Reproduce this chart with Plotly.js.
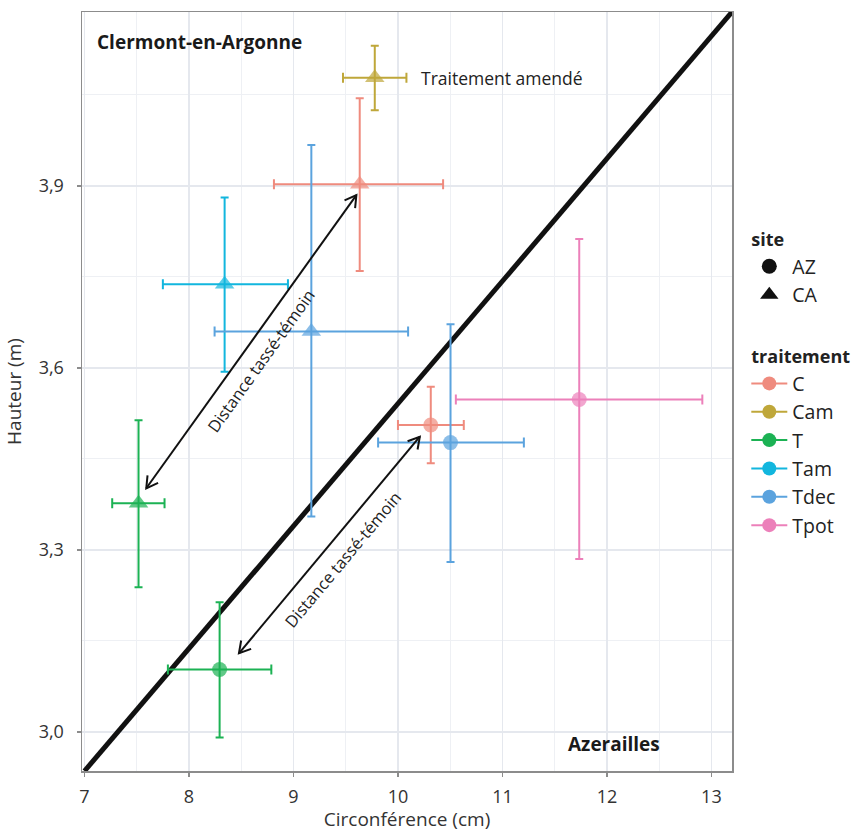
<!DOCTYPE html>
<html>
<head>
<meta charset="utf-8">
<script src="https://cdn.plot.ly/plotly-3.0.1.min.js"></script>
<style>html,body{margin:0;padding:0;background:#fff;}#chart{width:857px;height:832px;}</style>
</head>
<body>
<div id="chart"></div>
<script>
// ---- data ----
const site       = ['CA','CA','CA','CA','CA','AZ','AZ','AZ','AZ'];
const traitement = ['C','Cam','Tam','Tdec','T','C','Tdec','Tpot','T'];
const circ       = [9.634, 9.778, 8.341, 9.171, 7.517, 10.314, 10.503, 11.735, 8.293];
const circLow    = [8.813, 9.474, 7.750, 8.245, 7.265, 10.000, 9.810, 10.554, 7.798];
const circHigh   = [10.432, 10.081, 8.947, 10.097, 7.766, 10.630, 11.205, 12.913, 8.788];
const haut       = [3.903, 4.0785, 3.738, 3.660, 3.377, 3.506, 3.477, 3.548, 3.103];
const hautLow    = [3.760, 4.025, 3.594, 3.355, 3.2385, 3.443, 3.280, 3.285, 2.991];
const hautHigh   = [4.0445, 4.131, 3.881, 3.9675, 3.514, 3.569, 3.672, 3.8126, 3.214];

const treatLevels = ['C','Cam','T','Tam','Tdec','Tpot'];
const treatColors = ['#EF8B7E','#BFA73A','#1CB254','#12B6DE','#5BA3DE','#EC80BA'];
const siteLevels  = ['AZ','CA'];
const siteSymbols = ['circle','triangle-up'];

const xTicks = [7, 8, 9, 10, 11, 12, 13];
const yTicks = [3.0, 3.3, 3.6, 3.9];

// reference line and annotations
const refLineX = [7.0, 13.197];
const refLineY = [2.9357, 4.1868];
const arrowUp  = {x1: 9.602, y1: 3.885, x2: 7.591, y2: 3.4017};
const arrowLow = {x1: 10.209, y1: 3.4867, x2: 8.478, y2: 3.1297};

// ---- layout geometry ----
const W = 857, H = 832;
const M = {l: 82, r: 125, t: 12, b: 61, autoexpand: false};
const xr = [6.976, 13.197], yr = [2.9357, 4.1868];
const sx = (W - M.l - M.r) / (xr[1] - xr[0]);
const sy = (H - M.t - M.b) / (yr[1] - yr[0]);
const FONT = 'Open Sans, sans-serif';

const traces = [];
traces.push({
  x: refLineX, y: refLineY, mode: 'lines', type: 'scatter',
  line: {color: '#111', width: 5}, showlegend: false, hoverinfo: 'skip', cliponaxis: false
});

treatLevels.forEach((t, ti) => {
  const idx = traitement.map((v, i) => v === t ? i : -1).filter(i => i >= 0);
  const col = treatColors[ti];
  traces.push({
    type: 'scatter', mode: 'markers',
    x: idx.map(i => circ[i]), y: idx.map(i => haut[i]),
    marker: {
      color: col,
      size: idx.map(i => site[i] === 'CA' ? 17 : 15),
      symbol: idx.map(i => siteSymbols[siteLevels.indexOf(site[i])]),
      line: {width: 0}
    },
    error_x: {type: 'data', symmetric: false,
      array: idx.map(i => circHigh[i] - circ[i]),
      arrayminus: idx.map(i => circ[i] - circLow[i]),
      color: col, thickness: 2, width: 5},
    error_y: {type: 'data', symmetric: false,
      array: idx.map(i => hautHigh[i] - haut[i]),
      arrayminus: idx.map(i => haut[i] - hautLow[i]),
      color: col, thickness: 2, width: 4},
    showlegend: false, cliponaxis: false
  });
});

// legend: site
siteLevels.forEach((s, si) => {
  traces.push({
    type: 'scatter', mode: 'markers', x: [null], y: [null], name: s,
    marker: {color: '#111', size: si === 0 ? 15 : 17, symbol: siteSymbols[si]},
    legendgroup: 'site', legendgrouptitle: {text: '<b>site</b>', font: {size: 18, color: '#222', family: FONT}},
    showlegend: true
  });
});
// legend: traitement
treatLevels.forEach((t, ti) => {
  traces.push({
    type: 'scatter', mode: 'lines+markers', x: [null], y: [null], name: t,
    marker: {color: treatColors[ti], size: 14, symbol: 'circle'},
    line: {color: treatColors[ti], width: 2},
    legendgroup: 'traitement', legendgrouptitle: {text: '<b>traitement</b>', font: {size: 18, color: '#222', family: FONT}},
    showlegend: true
  });
});

// V-shaped arrow heads
function vHead(tx, ty, fx, fy) {
  const dxp = (fx - tx) * sx, dyp = (fy - ty) * sy;
  const len = Math.hypot(dxp, dyp);
  const ux = dxp / len, uy = dyp / len;
  const L = 13, a = Math.PI / 6;
  const pts = [a, -a].map(ang => {
    const rx = ux * Math.cos(ang) - uy * Math.sin(ang);
    const ry = ux * Math.sin(ang) + uy * Math.cos(ang);
    return [tx + rx * L / sx, ty + ry * L / sy];
  });
  return `M${pts[0][0]},${pts[0][1]} L${tx},${ty} L${pts[1][0]},${pts[1][1]}`;
}
const shapes = [];
[arrowUp, arrowLow].forEach(a => {
  shapes.push({type: 'line', xref: 'x', yref: 'y', x0: a.x1, y0: a.y1, x1: a.x2, y1: a.y2,
    line: {color: '#111', width: 2}});
  shapes.push({type: 'path', xref: 'x', yref: 'y', path: vHead(a.x1, a.y1, a.x2, a.y2),
    line: {color: '#111', width: 2}});
  shapes.push({type: 'path', xref: 'x', yref: 'y', path: vHead(a.x2, a.y2, a.x1, a.y1),
    line: {color: '#111', width: 2}});
});

const annotations = [
  {xref: 'paper', yref: 'paper', x: 0.02, y: 0.96, xanchor: 'left', yanchor: 'middle',
   text: '<b>Clermont-en-Argonne</b>', showarrow: false, font: {family: FONT, size: 19, color: '#1a1a1a'}},
  {xref: 'paper', yref: 'paper', x: 0.893, y: 0.036, xanchor: 'right', yanchor: 'middle',
   text: '<b>Azerailles</b>', showarrow: false, font: {family: FONT, size: 19, color: '#1a1a1a'}},
  {xref: 'x', yref: 'y', x: 10.2, y: 4.0785, xanchor: 'left', yanchor: 'middle',
   text: 'Traitement amendé', showarrow: false, font: {family: FONT, size: 17.5, color: '#222'}},
  {xref: 'x', yref: 'y', x: 8.686, y: 3.613, text: 'Distance tassé-témoin', showarrow: false,
   textangle: -54.4, font: {family: FONT, size: 16.5, color: '#222'}},
  {xref: 'x', yref: 'y', x: 9.466, y: 3.285, text: 'Distance tassé-témoin', showarrow: false,
   textangle: -50.2, font: {family: FONT, size: 16.5, color: '#222'}}
];

const axisCommon = {
  showline: true, mirror: true, linecolor: '#8c8c8c', linewidth: 1.5,
  ticks: 'outside', ticklen: 4, tickcolor: '#8c8c8c', tickwidth: 1.2,
  showgrid: true, gridcolor: '#E5E8EE', gridwidth: 1.2,
  zeroline: false, tickfont: {family: FONT, size: 18, color: '#333'},
  minor: {showgrid: true, gridcolor: '#EEF0F4', gridwidth: 1}
};

const layout = {
  width: W, height: H, margin: M,
  paper_bgcolor: '#fff', plot_bgcolor: '#fff',
  separators: ', ',
  font: {family: FONT, color: '#333'},
  xaxis: Object.assign({}, axisCommon, {
    range: xr, tickmode: 'array', tickvals: xTicks, ticktext: xTicks.map(String),
    minor: Object.assign({}, axisCommon.minor, {tickmode: 'array', tickvals: xTicks.map(v => v + 0.5), ticks: ''}),
    title: {text: 'Circonférence (cm)', font: {family: FONT, size: 19, color: '#333'}, standoff: 4},
    ticklabelstandoff: 5
  }),
  yaxis: Object.assign({}, axisCommon, {
    range: yr, tickmode: 'array', tickvals: yTicks, ticktext: yTicks.map(v => v.toFixed(1).replace('.', ',')),
    minor: Object.assign({}, axisCommon.minor, {tickmode: 'array', tickvals: yTicks.map(v => v + 0.15), ticks: ''}),
    title: {text: 'Hauteur (m)', font: {family: FONT, size: 19, color: '#333'}, standoff: 12},
    ticklabelstandoff: 9
  }),
  legend: {
    x: 1.022, xanchor: 'left', y: 0.725, yanchor: 'top',
    font: {family: FONT, size: 19.5, color: '#222'},
    tracegroupgap: 34, itemwidth: 36, bgcolor: 'rgba(0,0,0,0)'
  },
  shapes: shapes,
  annotations: annotations,
  showlegend: true
};

Plotly.newPlot('chart', traces, layout, {displayModeBar: false, staticPlot: true});
</script>
</body>
</html>
